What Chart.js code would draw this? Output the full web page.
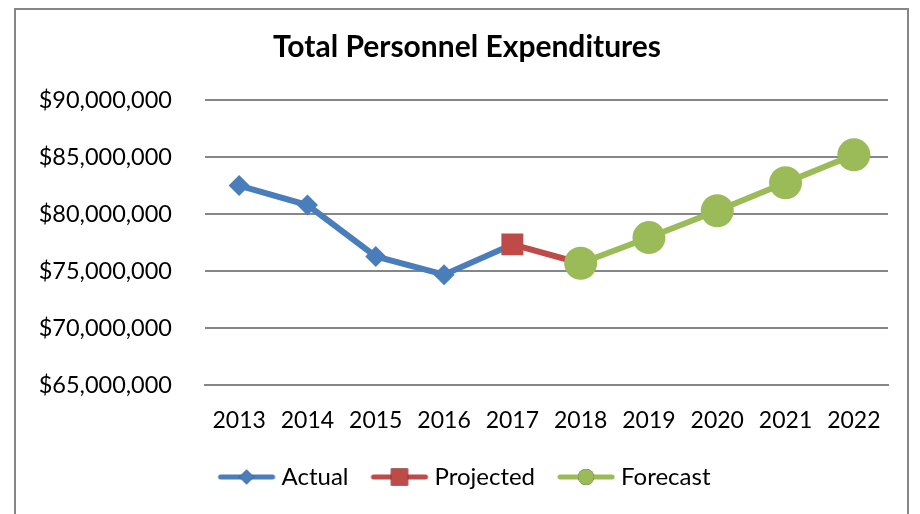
<!DOCTYPE html>
<html>
<head>
<meta charset="utf-8">
<script src="https://cdn.jsdelivr.net/npm/chart.js@4.4.1/dist/chart.umd.min.js"></script>
<style>
  html, body { margin: 0; padding: 0; background: #fff; }
  #wrap { width: 920px; height: 514px; position: relative; }
</style>
</head>
<body>
<div id="wrap"><canvas id="chart"></canvas></div>
<script>
// --- data ---
const years = ['2013', '2014', '2015', '2016', '2017', '2018', '2019', '2020', '2021', '2022'];
const actual = [82500000, 80800000, 76300000, 74700000, 77350000, null, null, null, null, null];
const projected = [null, null, null, null, 77350000, 75700000, null, null, null, null];
const forecast = [null, null, null, null, null, 75700000, 77950000, 80300000, 82750000, 85200000];
const yTicks = [65000000, 70000000, 75000000, 80000000, 85000000, 90000000];

const BLUE = '#4a7ebb';
const RED = '#be4b48';
const GREEN = '#9bbb59';
const FONT = 'Lato, "Open Sans", sans-serif';

// legend swatch: short line with the marker on top
function swatch(color, style, r) {
    const c = document.createElement('canvas');
    c.width = 60; c.height = 28;
    const ctx = c.getContext('2d');
    ctx.strokeStyle = color;
    ctx.lineWidth = 5;
    ctx.lineCap = 'round';
    ctx.beginPath();
    ctx.moveTo(4, 14); ctx.lineTo(56, 14);
    ctx.stroke();
    Chart.helpers.drawPoint(ctx, { pointStyle: style, radius: r, rotation: 0, borderWidth: 0 }, 30, 14);
    ctx.fillStyle = color;
    ctx.fill();
    return c;
}

const frame = {
    id: 'frame',
    beforeDraw(chart) {
        const ctx = chart.ctx;
        ctx.save();
        ctx.strokeStyle = '#868686';
        ctx.lineWidth = 2;
        ctx.strokeRect(15, 9, 893, 520);
        ctx.restore();
    }
};

const fmt = v => '$' + v.toLocaleString('en-US');

new Chart(document.getElementById('chart'), {
    type: 'line',
    data: {
        labels: years,
        datasets: [
            {
                label: 'Actual', data: actual, order: 3,
                borderColor: BLUE, backgroundColor: BLUE, borderWidth: 6,
                pointStyle: 'rectRot', pointRadius: 10.5, pointHoverRadius: 10.5,
                pointBorderWidth: 0, tension: 0
            },
            {
                label: 'Projected', data: projected, order: 2,
                borderColor: RED, backgroundColor: RED, borderWidth: 6,
                pointStyle: ['rect', 'rect', 'rect', 'rect', 'rect', false, false, false, false, false],
                pointRadius: 15.5, pointHoverRadius: 15.5, pointBorderWidth: 0, tension: 0
            },
            {
                label: 'Forecast', data: forecast, order: 1,
                borderColor: GREEN, backgroundColor: GREEN, borderWidth: 6,
                pointStyle: 'circle', pointRadius: 16.5, pointHoverRadius: 16.5,
                pointBorderWidth: 0, tension: 0
            }
        ]
    },
    options: {
        responsive: true,
        maintainAspectRatio: false,
        animation: false,
        layout: { padding: { left: 30, right: 16, top: 18, bottom: 15 } },
        plugins: {
            title: {
                display: true,
                text: 'Total Personnel Expenditures',
                color: '#000',
                font: { family: FONT, size: 30, weight: 'bold' },
                padding: { top: 11, bottom: 35 }
            },
            legend: {
                position: 'bottom',
                labels: {
                    usePointStyle: true,
                    pointStyleWidth: 46,
                    boxHeight: 22,
                    padding: 28,
                    color: '#000',
                    font: { family: FONT, size: 24 },
                    generateLabels(chart) {
                        const styles = [['rectRot', 7.5], ['rect', 12], ['circle', 8]];
                        return chart.data.datasets.map((ds, i) => ({
                            text: ds.label,
                            pointStyle: swatch(ds.borderColor, styles[i][0], styles[i][1]),
                            fillStyle: ds.borderColor,
                            strokeStyle: ds.borderColor,
                            lineWidth: 0,
                            fontColor: '#000',
                            datasetIndex: i
                        }));
                    }
                }
            },
            tooltip: { enabled: false }
        },
        scales: {
            x: {
                offset: true,
                afterFit(axis) { axis.height = axis.height - 10; },
                grid: { display: false },
                border: { display: true, color: '#868686', width: 2 },
                ticks: { color: '#000', padding: 13, font: { family: FONT, size: 23 } }
            },
            y: {
                min: 65000000,
                max: 90000000,
                afterBuildTicks(axis) { axis.ticks = yTicks.map(v => ({ value: v })); },
                afterFit(axis) {
                    axis.width = 175;
                    axis.paddingTop = 14;
                    axis.paddingBottom = 14;
                },
                grid: { color: '#868686', lineWidth: 2, drawTicks: false },
                border: { display: false },
                ticks: {
                    color: '#000', padding: 33,
                    font: { family: FONT, size: 23.5 },
                    callback: v => fmt(v)
                }
            },
            // empty right-hand strip so the title and legend centre like the original
            yRight: {
                position: 'right',
                display: true,
                afterFit(axis) { axis.width = 16; axis.paddingTop = 0; axis.paddingBottom = 0; },
                grid: { display: false, drawTicks: false },
                border: { display: false },
                ticks: { display: false }
            }
        }
    },
    plugins: [frame]
});
</script>
</body>
</html>
